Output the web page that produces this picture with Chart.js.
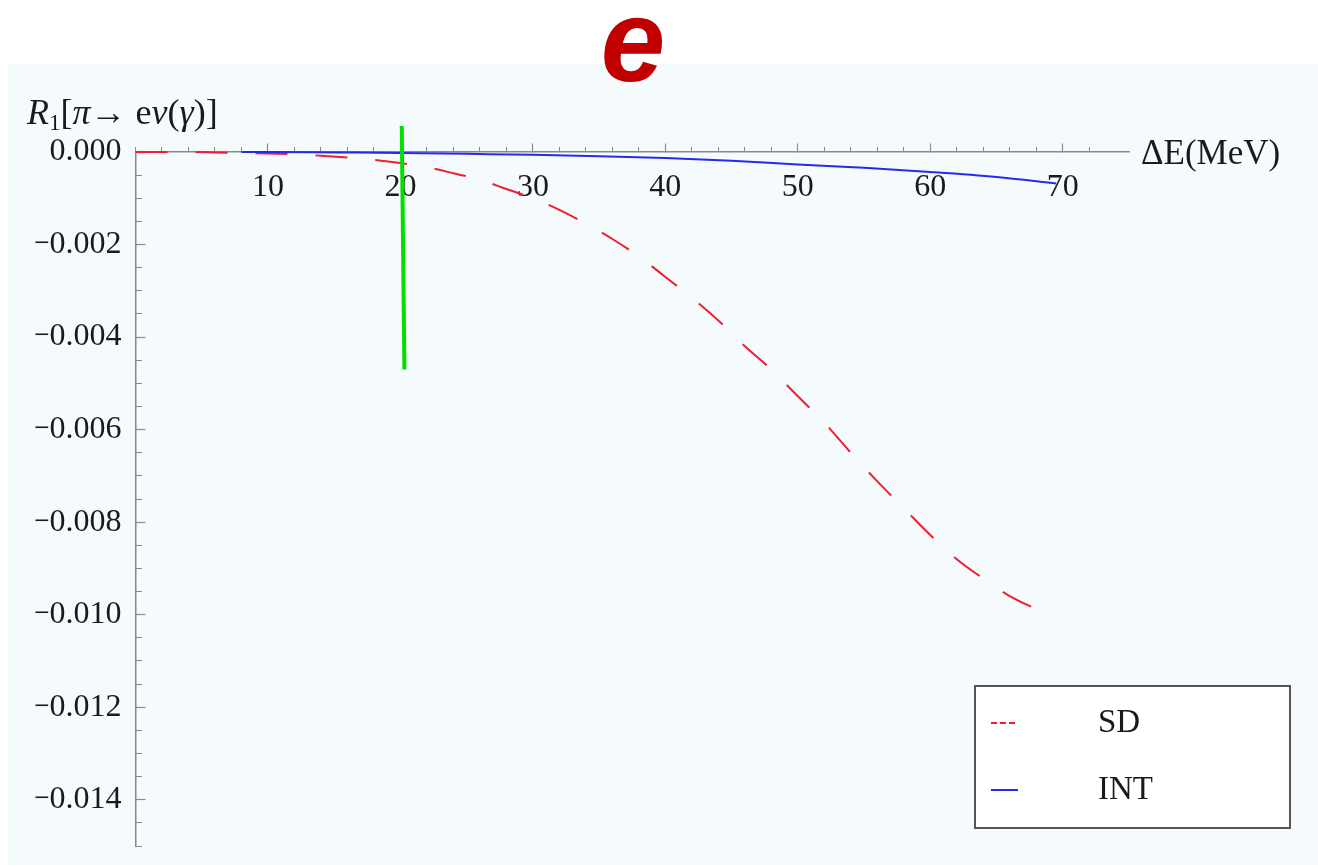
<!DOCTYPE html>
<html>
<head>
<meta charset="utf-8">
<title>R1 vs ΔE</title>
<script src="https://cdn.jsdelivr.net/npm/chart.js@4/dist/chart.umd.min.js"></script>
<style>
  html, body { margin: 0; padding: 0; background: #fff; }
  #wrap { width: 1318px; height: 865px; position: relative; }
</style>
</head>
<body>
<div id="wrap"><canvas id="ratioChart"></canvas></div>
<script>
// SD curve (dashed red)
const sdEnergy = [0, 2, 4, 6, 8, 10, 12, 14, 16, 18, 20, 22, 24, 26, 28, 30, 32, 34, 36, 38,
                  40, 42, 44, 46, 48, 50, 52, 54, 56, 58, 60, 62, 64, 66, 68, 69.5];
const sdValues = [0, 0, 0, -0.00001, -0.00002, -0.00003, -0.00005, -0.00008, -0.00012, -0.00017,
                  -0.00024, -0.00033, -0.00046, -0.0006, -0.0008, -0.001, -0.00125, -0.00155, -0.00188, -0.00226,
                  -0.0027, -0.00315, -0.00364, -0.0042, -0.0047, -0.00528, -0.00585, -0.0065, -0.00712, -0.0077,
                  -0.00828, -0.0088, -0.00922, -0.0096, -0.00987, -0.01];

// INT curve (solid blue)
const intEnergy = [8, 10, 15, 20, 25, 30, 35, 40, 45, 50, 55, 60, 65, 69.5];
const intValues = [0, 0, -0.00001, -0.00002, -0.00004, -0.00006, -0.00009, -0.00013, -0.00019,
                   -0.00027, -0.00034, -0.00043, -0.00054, -0.00068];

// cut marker at 20 MeV
const cutEnergy = [20.1, 20.3];
const cutValues = [0.00056, -0.0047];

const seriesLabels = ['SD', 'INT'];
const xTicks = [10, 20, 30, 40, 50, 60, 70];
const yTicks = [0, -0.002, -0.004, -0.006, -0.008, -0.010, -0.012, -0.014];

document.addEventListener("DOMContentLoaded", function () {

    const colors = {
        sd: 'rgb(240, 30, 50)',
        int: 'rgb(40, 40, 240)',
        cut: '#00e000',
        axis: '#8a8a8a',
        text: '#1a1a1a',
        panel: '#f5fbfd',
        title: '#c00000'
    };

    const serif = '"Liberation Serif", "Times New Roman", serif';
    const tickFont = { family: serif, size: 32 };

    const toPoints = (xs, ys) => xs.map((x, i) => ({ x: x, y: ys[i] }));

    // no extra room for label overflow, the layout padding places the plot
    const noOverflow = s => { s.paddingTop = 0; s.paddingBottom = 0; s.paddingLeft = 0; s.paddingRight = 0; };

    // light panel behind the plot
    const panelPlugin = {
        id: 'panel',
        beforeDraw(chart) {
            const ctx = chart.ctx;
            ctx.save();
            ctx.fillStyle = colors.panel;
            ctx.fillRect(8, 64, chart.width - 8, chart.height - 64);
            ctx.restore();
        }
    };

    // title, axis captions and the boxed legend
    const decorPlugin = {
        id: 'decor',
        afterDraw(chart) {
            const ctx = chart.ctx;
            ctx.save();

            ctx.fillStyle = colors.title;
            ctx.font = 'italic bold 116px "Liberation Sans", Arial, sans-serif';
            ctx.textAlign = 'center';
            ctx.textBaseline = 'alphabetic';
            ctx.fillText('e', 633, 81);

            // y caption: R1[π→ eν(γ)]
            const runs = [
                ['R', 'italic 36px ' + serif, 0],
                ['1', '23px ' + serif, 6],
                ['[', '36px ' + serif, 0],
                ['π', 'italic 36px ' + serif, 0],
                ['→ e', '36px ' + serif, 0],
                ['ν', 'italic 36px ' + serif, 0],
                ['(', '36px ' + serif, 0],
                ['γ', 'italic 36px ' + serif, 0],
                [')]', '36px ' + serif, 0]
            ];
            ctx.fillStyle = colors.text;
            ctx.textAlign = 'left';
            let cx = 27;
            runs.forEach(([txt, font, dy]) => {
                ctx.font = font;
                ctx.fillText(txt, cx, 124 + dy);
                cx += ctx.measureText(txt).width;
            });

            ctx.font = '35px ' + serif;
            ctx.textBaseline = 'middle';
            ctx.fillText('ΔE(MeV)', 1141, 155);

            // legend
            const bx = 975, by = 686, bw = 315, bh = 142;
            ctx.fillStyle = '#ffffff';
            ctx.fillRect(bx, by, bw, bh);
            ctx.strokeStyle = '#555';
            ctx.lineWidth = 2;
            ctx.strokeRect(bx, by, bw, bh);

            const items = chart.data.datasets.filter(d => d.label);
            items.forEach((d, i) => {
                const y = by + 37 + i * 67;
                ctx.strokeStyle = d.borderColor;
                ctx.lineWidth = 2;
                ctx.setLineDash(d.borderDash && d.borderDash.length ? [6, 3] : []);
                ctx.beginPath();
                ctx.moveTo(991, y);
                ctx.lineTo(1018, y);
                ctx.stroke();
                ctx.setLineDash([]);
                ctx.fillStyle = colors.text;
                ctx.font = '33px ' + serif;
                ctx.textBaseline = 'middle';
                ctx.fillText(d.label, 1098, y);
            });

            ctx.restore();
        }
    };

    const ctxEl = document.getElementById('ratioChart');
    new Chart(ctxEl, {
        type: 'line',
        data: {
            datasets: [
                {
                    data: toPoints(cutEnergy, cutValues),
                    borderColor: colors.cut,
                    borderWidth: 4,
                    pointRadius: 0,
                    clip: false,
                    order: 0
                },
                {
                    label: seriesLabels[0],
                    data: toPoints(sdEnergy, sdValues),
                    borderColor: colors.sd,
                    borderWidth: 2,
                    borderDash: [32, 28],
                    pointRadius: 0,
                    cubicInterpolationMode: 'monotone',
                    clip: 4,
                    order: 2
                },
                {
                    label: seriesLabels[1],
                    data: toPoints(intEnergy, intValues),
                    borderColor: colors.int,
                    borderWidth: 2,
                    pointRadius: 0,
                    cubicInterpolationMode: 'monotone',
                    clip: 4,
                    order: 1
                }
            ]
        },
        options: {
            responsive: true,
            maintainAspectRatio: false,
            animation: false,
            events: [],
            layout: {
                padding: { left: 35.5, top: 152, right: 189, bottom: 19 }
            },
            plugins: {
                legend: { display: false },
                tooltip: { enabled: false }
            },
            scales: {
                x: {
                    type: 'linear',
                    axis: 'x',
                    position: { y: 0 },
                    min: 0,
                    max: 75,
                    afterBuildTicks: s => { s.ticks = xTicks.map(v => ({ value: v })); },
                    afterFit: noOverflow,
                    grid: { drawOnChartArea: false, tickLength: -9, tickColor: colors.axis, tickWidth: 1.2 },
                    border: { color: colors.axis, width: 1.5 },
                    ticks: { font: tickFont, color: colors.text, padding: 25, maxRotation: 0, autoSkip: false }
                },
                xMinor: {
                    type: 'linear',
                    axis: 'x',
                    position: { y: 0 },
                    min: 0,
                    max: 75,
                    ticks: { stepSize: 2, autoSkip: false, callback: () => '' },
                    afterBuildTicks: s => { s.ticks = s.ticks.filter(t => Math.abs(t.value / 2 - Math.round(t.value / 2)) < 1e-9); },
                    afterFit: noOverflow,
                    grid: { drawOnChartArea: false, tickLength: -5, tickColor: colors.axis, tickWidth: 1 },
                    border: { display: false }
                },
                y: {
                    type: 'linear',
                    axis: 'y',
                    position: 'left',
                    min: -0.015,
                    max: 0,
                    afterBuildTicks: s => { s.ticks = yTicks.map(v => ({ value: v })); },
                    afterFit: s => { noOverflow(s); s.width = 100; },
                    grid: { drawOnChartArea: false, tickLength: -10, tickColor: colors.axis, tickWidth: 1.2 },
                    border: { color: colors.axis, width: 1.5 },
                    ticks: {
                        font: tickFont,
                        color: colors.text,
                        padding: 24,
                        autoSkip: false,
                        callback: v => v === 0 ? '0.000' : '\u2212' + Math.abs(v).toFixed(3)
                    }
                },
                yMinor: {
                    type: 'linear',
                    axis: 'y',
                    position: { x: 0 },
                    min: -0.015,
                    max: 0,
                    ticks: { stepSize: 0.0005, autoSkip: false, callback: () => '' },
                    afterFit: noOverflow,
                    grid: { drawOnChartArea: false, tickLength: -6, tickColor: colors.axis, tickWidth: 1 },
                    border: { display: false }
                }
            }
        },
        plugins: [panelPlugin, decorPlugin]
    });
});
</script>
</body>
</html>
